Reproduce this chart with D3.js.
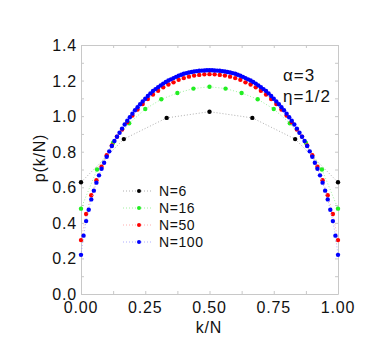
<!DOCTYPE html>
<html lang="en">
<head>
    <meta charset="UTF-8">
    <title>p(k/N) chart</title>
    <script src="https://cdn.jsdelivr.net/npm/d3@7"></script>
   <style>
      body { margin: 0; background: white; }
      #chart text { font-family: "Liberation Sans", Arial, sans-serif; fill: #111; }
      .axis path, .axis line { stroke: #c8c8c8; }
   </style>
</head>
<body>
<div id="chart"></div>
<script>
   // values, k = 0..N
   var n6 = [0.628, 0.871, 0.99, 1.025, 0.99, 0.871, 0.628];
   var n16 = [0.48, 0.70, 0.85, 0.96, 1.04, 1.095, 1.13, 1.155, 1.165,
              1.155, 1.13, 1.095, 1.04, 0.96, 0.85, 0.70, 0.48];
   var n50 = [0.303, 0.45, 0.555, 0.64, 0.716, 0.78, 0.835, 0.885, 0.925, 0.965,
              1.003, 1.037, 1.068, 1.096, 1.122, 1.143, 1.162, 1.178, 1.19, 1.204,
              1.214, 1.222, 1.228, 1.232, 1.235, 1.236, 1.235, 1.232, 1.228, 1.222,
              1.214, 1.204, 1.19, 1.178, 1.162, 1.143, 1.122, 1.096, 1.068, 1.037,
              1.003, 0.965, 0.925, 0.885, 0.835, 0.78, 0.716, 0.64, 0.555, 0.45, 0.303];
   var n100 = [0.22, 0.328, 0.41, 0.474, 0.532, 0.581, 0.626, 0.667, 0.704, 0.738,
               0.772, 0.802, 0.832, 0.86, 0.884, 0.907, 0.93, 0.953, 0.974, 0.994,
               1.014, 1.033, 1.05, 1.067, 1.083, 1.098, 1.113, 1.128, 1.141, 1.152,
               1.163, 1.173, 1.183, 1.192, 1.2, 1.207, 1.214, 1.221, 1.227, 1.233,
               1.238, 1.242, 1.245, 1.248, 1.251, 1.253, 1.255, 1.256, 1.257, 1.258,
               1.258, 1.258, 1.257, 1.256, 1.255, 1.253, 1.251, 1.248, 1.245, 1.242,
               1.238, 1.233, 1.227, 1.221, 1.214, 1.207, 1.2, 1.192, 1.183, 1.173,
               1.163, 1.152, 1.141, 1.128, 1.113, 1.098, 1.083, 1.067, 1.05, 1.033,
               1.014, 0.994, 0.974, 0.953, 0.93, 0.907, 0.884, 0.86, 0.832, 0.802,
               0.772, 0.738, 0.704, 0.667, 0.626, 0.581, 0.532, 0.474, 0.41, 0.328, 0.22];
   var seriesNames = ["N=6", "N=16", "N=50", "N=100"];
   var seriesColors = ["#000000", "#22ee22", "#ff0000", "#0000ff"];
   var lineColors = ["#999999", "#88ee88", "#ff9999", "#9999ff"];
   var xTicks = [0, 0.25, 0.5, 0.75, 1];
   var yTicks = [0, 0.2, 0.4, 0.6, 0.8, 1.0, 1.2, 1.4];

   var series = [n6, n16, n50, n100];

   var svg = d3.select("#chart").append("svg").attr("width", 382).attr("height", 362);
   var mLeft = 81, mRight = 338, mTop = 45, mBottom = 294;

   var x = d3.scaleLinear().domain([0, 1]).range([mLeft, mRight]);
   var y = d3.scaleLinear().domain([0, 1.4]).range([mBottom, mTop]);

   // frame with inward ticks
   svg.append("g").attr("class", "axis")
      .attr("transform", "translate(0," + mBottom + ")")
      .call(d3.axisBottom(x).tickValues(d3.range(0, 1.001, 0.125)).tickSize(-3).tickSizeOuter(0).tickFormat(""));
   svg.append("g").attr("class", "axis")
      .attr("transform", "translate(0," + mTop + ")")
      .call(d3.axisTop(x).tickValues(d3.range(0, 1.001, 0.125)).tickSize(-3).tickSizeOuter(0).tickFormat(""));
   svg.append("g").attr("class", "axis")
      .attr("transform", "translate(" + mLeft + ",0)")
      .call(d3.axisLeft(y).tickValues(d3.range(0, 1.401, 0.1)).tickSize(-3).tickSizeOuter(0).tickFormat(""));
   svg.append("g").attr("class", "axis")
      .attr("transform", "translate(" + mRight + ",0)")
      .call(d3.axisRight(y).tickValues(d3.range(0, 1.401, 0.1)).tickSize(-3).tickSizeOuter(0).tickFormat(""));
   svg.selectAll(".axis path").attr("fill", "none");

   // tick labels
   svg.selectAll(".xlab").data(xTicks).enter().append("text")
      .attr("x", function(d) { return x(d); })
      .attr("y", 313)
      .attr("text-anchor", "middle")
      .style("font-size", "16px").style("letter-spacing", "0.8px")
      .text(function(d) { return d3.format(".2f")(d); });
   svg.selectAll(".ylab").data(yTicks).enter().append("text")
      .attr("x", 77)
      .attr("y", function(d) { return y(d) + 6; })
      .attr("text-anchor", "end")
      .style("font-size", "16px").style("letter-spacing", "0.8px")
      .text(function(d) { return d3.format(".1f")(d); });

   svg.append("text").attr("x", 209).attr("y", 333).attr("text-anchor", "middle")
      .style("font-size", "16px").style("letter-spacing", "0.8px").text("k/N");
   svg.append("text").attr("transform", "translate(45,158) rotate(-90)")
      .attr("text-anchor", "middle")
      .style("font-size", "16px").style("letter-spacing", "0.8px").text("p(k/N)");

   svg.append("text").attr("x", 283).attr("y", 81)
      .style("font-size", "17px").style("letter-spacing", "1px").text("α=3");
   svg.append("text").attr("x", 283).attr("y", 102)
      .style("font-size", "17px").style("letter-spacing", "1px").text("η=1/2");

   var line = d3.line()
      .x(function(d, i, arr) { return x(i / (arr.length - 1)); })
      .y(function(d) { return y(d); });

   series.forEach(function(vals, s) {
      svg.append("path")
         .attr("d", line(vals))
         .attr("fill", "none")
         .attr("stroke", lineColors[s])
         .attr("stroke-width", 0.8)
         .attr("stroke-dasharray", "1,2");
      svg.selectAll(".dot" + s).data(vals).enter().append("circle")
         .attr("cx", function(d, i) { return x(i / (vals.length - 1)); })
         .attr("cy", function(d) { return y(d); })
         .attr("r", 2.2)
         .attr("fill", seriesColors[s]);
   });

   // legend
   var lg = svg.selectAll(".leg").data(seriesNames).enter().append("g")
      .attr("transform", function(d, i) { return "translate(0," + (191 + i * 17) + ")"; });
   lg.append("line").attr("x1", 123).attr("x2", 153).attr("y1", 0).attr("y2", 0)
      .attr("stroke", function(d, i) { return lineColors[i]; })
      .attr("stroke-width", 0.8).attr("stroke-dasharray", "1,2");
   lg.append("circle").attr("cx", 139).attr("cy", 0).attr("r", 2)
      .attr("fill", function(d, i) { return seriesColors[i]; });
   lg.append("text").attr("x", 159).attr("y", 5)
      .style("font-size", "14px").style("letter-spacing", "0.6px")
      .text(function(d) { return d; });
</script>
</body>
</html>
